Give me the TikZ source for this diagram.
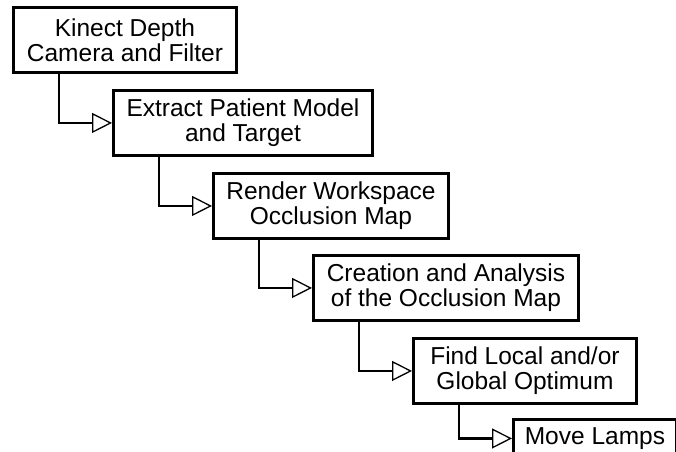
\documentclass[tikz,border=0pt]{standalone}
\usepackage{fontspec}
\setmainfont{Liberation Sans}
\usetikzlibrary{arrows.meta}
\begin{document}
\begin{tikzpicture}[x=1pt,y=-1pt,
  box/.style={draw, line width=2.9pt, fill=white, align=center, inner sep=0pt,
    anchor=north west, minimum height=65pt, font=\fontsize{24.5}{25}\selectfont},
  flow/.style={line width=2.9pt, -{Triangle[open, length=20pt, width=20pt, line width=1.3pt]}}]
\useasboundingbox (0,0) rectangle (676,451);
\clip (0,0) rectangle (676,451);
\node[box, minimum width=223pt] (b1) at (12,6) {Kinect Depth\\Camera and Filter};
\node[box, minimum width=259pt] (b2) at (112,89) {Extract Patient Model\\and Target};
\node[box, minimum width=235pt] (b3) at (212,172) {Render Workspace\\Occlusion Map};
\node[box, minimum width=265pt] (b4) at (312,254) {Creation and Analysis\\of the Occlusion Map};
\node[box, minimum width=223pt] (b5) at (412,337) {Find Local and/or\\Global Optimum};
\node[box, minimum width=163pt, minimum height=38pt] (b6) at (512,418) {Move Lamps};
\draw[flow] ([xshift=47pt]b1.south west) |- (b2.west);
\draw[flow] ([xshift=47pt]b2.south west) |- (b3.west);
\draw[flow] ([xshift=47pt]b3.south west) |- (b4.west);
\draw[flow] ([xshift=47pt]b4.south west) |- (b5.west);
\draw[flow] ([xshift=47pt]b5.south west) |- (b6.west);
\end{tikzpicture}
\end{document}
